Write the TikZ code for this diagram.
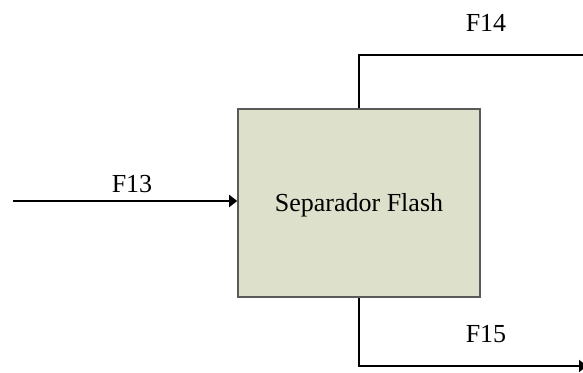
\documentclass[tikz,border=0pt]{standalone}
\usepackage{fontspec}
\setmainfont{Liberation Serif}
\usetikzlibrary{arrows.meta}
\definecolor{boxfill}{HTML}{DDE0CB}
\definecolor{boxborder}{HTML}{5A5A5A}
\begin{document}
\begin{tikzpicture}[x=0.5pt,y=-0.5pt,
  font=\fontsize{13}{15}\selectfont,
  flow/.style={line width=1pt, draw=black},
  arr/.style={flow, -{Triangle[length=4pt,width=6pt]}},
  unit/.style={draw=boxborder, fill=boxfill, line width=0.8pt, minimum width=121pt, minimum height=94pt, inner sep=0pt},
  lbl/.style={anchor=base, inner sep=0pt}]
\useasboundingbox (0,0) rectangle (583,373);
\node[unit] (sep) at (359,203) {};
\node[lbl] (septext) at (359,212) {Separador Flash};
\coordinate (in13) at (13,201);
\coordinate (out14) at (583,55);
\coordinate (out15) at (587,366);
\draw[arr] (in13) -- (in13 -| sep.west);
\draw[flow] (sep.north) |- (out14);
\draw[arr] (sep.south) |- (out15);
\node[lbl] (f13) at (132,193) {F13};
\node[lbl] (f14) at (486,32) {F14};
\node[lbl] (f15) at (486,343) {F15};
\end{tikzpicture}
\end{document}
